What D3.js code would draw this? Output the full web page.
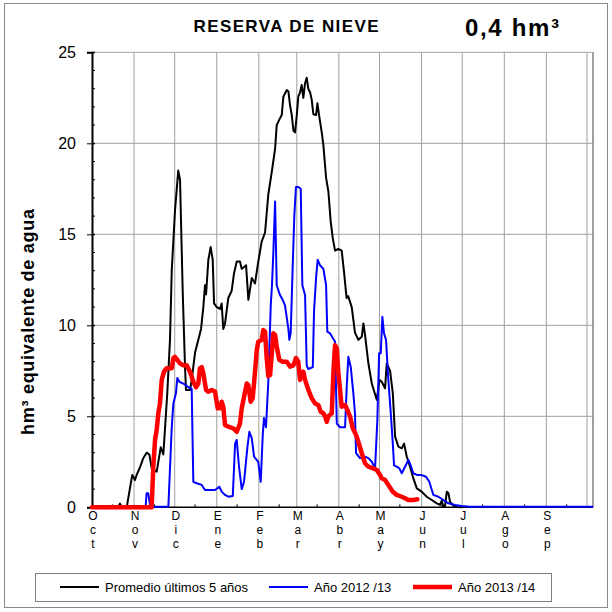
<!DOCTYPE html>
<html>
<head>
<meta charset="utf-8">
<script src="https://cdn.jsdelivr.net/npm/d3@7"></script>
<style>
  body { margin: 0; background: #fff; }
  text { font-family: Arial, "Liberation Sans", sans-serif; }
</style>
</head>
<body>
<svg id="chart" width="612" height="612"></svg>
<script>
// days counted from 1 Oct, value in hm3
var promedio = [[0,0],[19,0],[20.6,0.2],[22,0],[25.6,0],[28,1.05],[29.7,1.78],[31.7,1.5],[33,1.8],[35.4,2.2],[37.8,2.7],[40.3,3.0],[42.3,2.9],[44,2.15],[45.2,2.05],[47.7,1.96],[48.9,2.5],[50.7,3.3],[52.6,2.9],[55.5,6.26],[57.5,9.2],[58.8,13.0],[61.2,16.3],[63.6,18.5],[64.9,18.0],[66.9,11.8],[68.6,7.7],[69.3,6.45],[72.3,6.45],[73.5,7.0],[76,8.5],[78.4,9.2],[80.4,9.8],[82.1,11.0],[83.3,12.2],[84.1,11.7],[85.8,13.6],[87.5,14.3],[89,13.6],[90,11.2],[92,11.0],[94.4,10.9],[95.6,11.2],[96.8,9.8],[98.1,10.1],[100.5,11.5],[103,11.9],[104.7,12.85],[106.7,13.5],[109.1,13.5],[110.4,13.1],[112.1,13.2],[113.6,13.3],[115.3,11.4],[117.8,12.6],[120.2,12.3],[122.6,13.5],[125.1,14.6],[127.6,15.1],[130,17.2],[132.5,18.4],[135,19.7],[136.2,21.0],[138.1,21.3],[139.9,21.55],[141.1,22.56],[143.6,22.93],[144.8,22.85],[146,22.1],[147.3,21.55],[148.5,20.7],[149.7,20.6],[151,21.55],[152.1,22.56],[153.4,22.8],[154.6,23.2],[155.8,22.5],[157.1,23.3],[158.3,23.6],[159.5,23.0],[160.8,22.8],[162,22.4],[163.2,21.6],[165.2,21.55],[166.2,22.2],[167.4,21.55],[169.4,20.6],[170.6,19.9],[172.6,18.1],[174.3,17.35],[176,15.7],[177.5,14.8],[179.2,14.1],[181.6,14.2],[184.1,14.1],[185.8,12.95],[187.7,11.5],[188.9,11.6],[191.5,11.0],[193.9,9.6],[196.4,9.2],[198.9,9.37],[200.1,10.1],[201.3,9.47],[203.8,7.9],[206.3,6.8],[210,5.9],[211.9,7.0],[213.6,6.9],[216.1,6.54],[217.3,7.9],[219.8,7.5],[221.8,6.26],[223.5,3.88],[225.9,3.33],[228.4,3.24],[230.1,3.5],[232.1,2.78],[234.5,2.23],[236.9,1.6],[239.5,1.04],[243.1,0.86],[246.8,0.58],[250.5,0.4],[254.2,0.22],[256.6,0.13],[257.9,0.36],[259.1,0.05],[260.3,0.05],[261.6,0.86],[262.8,0.77],[264,0.3],[266.4,0.1],[269,0.02],[272,0]];

var ano1213 = [[0,0],[39.5,0],[40.3,0.77],[41.5,0.77],[42.8,0.1],[44,0.03],[56.3,0.03],[58.8,4.4],[60,5.7],[61.9,6.26],[62.9,7.1],[64.4,6.9],[67.3,6.8],[71,6.6],[73.5,6.5],[74.7,1.4],[77.2,1.32],[80.9,1.23],[83.3,0.95],[90.7,0.95],[93.9,1.13],[95.6,0.86],[98.1,0.68],[100.5,0.58],[103.8,0.62],[105.5,3.5],[106.7,3.7],[108.4,2.23],[110.4,1.0],[112.1,1.4],[114.5,3.24],[116,4.15],[117.8,3.8],[119.5,2.78],[122.6,2.5],[124.4,1.4],[125.9,3.97],[126.8,4.9],[128.3,4.4],[130,6.9],[131.8,11.1],[132.7,12.2],[133.7,14.0],[135,16.8],[136.2,12.2],[138.6,11.66],[140.6,11.4],[142.3,11.1],[144.8,9.8],[145.5,9.2],[146.5,9.56],[148,13.3],[149.2,16.06],[150.4,17.6],[152.1,17.6],[153.9,17.5],[155.1,12.2],[157.1,11.66],[158.3,7.8],[159.5,7.6],[162.8,7.7],[163.7,10.75],[165.2,12.6],[166.4,13.6],[168.1,13.3],[170.6,13.1],[172.6,12.2],[173.5,9.65],[175.5,9.56],[179.2,9.1],[180.5,4.6],[182.9,4.4],[186.6,4.4],[187.8,6.6],[189,8.27],[190.8,7.7],[192.7,6.26],[193.9,5.16],[194.7,2.97],[197.6,2.7],[201.3,2.78],[203.8,2.7],[206.3,2.5],[208.7,2.14],[210.4,4.8],[211.7,8.46],[212.9,8.46],[214.1,10.47],[215.3,9.56],[216.8,9.2],[218.5,7.0],[220.3,5.16],[221.8,3.5],[222.7,2.3],[224.7,2.23],[226.6,2.14],[228.4,1.87],[230.8,2.23],[233.3,2.6],[235,2.3],[236.9,1.87],[239.9,1.77],[243.1,1.77],[246.3,1.68],[248.7,1.4],[251.7,0.68],[255.4,0.58],[259.1,0.4],[262.8,0.22],[267.7,0.13],[272.6,0.07],[278.8,0.03],[369,0.03]];

var ano1314 = [[0,0],[44,0],[45.2,2.23],[46.5,3.7],[47.7,4.25],[48.9,5.16],[50.1,5.7],[51.4,7.0],[53.1,7.45],[55.1,7.64],[58.8,7.64],[60,8.2],[61.2,8.27],[62.9,8.1],[64.9,7.9],[67.3,7.8],[69.8,7.8],[72.3,7.45],[74.7,6.9],[76.7,6.6],[78.4,6.8],[79.6,7.64],[80.9,7.7],[82.1,7.36],[84.1,6.45],[85.8,6.35],[88.3,6.45],[90.7,6.35],[92.7,5.44],[94.4,5.44],[95.6,5.8],[96.8,5.53],[98.1,4.52],[100.5,4.43],[104.2,4.34],[106.7,4.15],[109.1,4.6],[110.4,5.44],[112.1,6.07],[114.1,6.8],[115.3,6.7],[117,5.8],[118.5,6.0],[120.2,7.45],[121.5,8.65],[122.6,9.1],[125.1,9.2],[126.3,9.74],[127.6,9.65],[128.8,8.2],[130,7.2],[131.3,7.27],[132.5,8.37],[133.7,9.56],[135,9.47],[136.2,8.82],[138.1,8.1],[140.6,8.0],[143.6,8.0],[146,7.73],[148.5,7.8],[150.4,8.2],[152.1,8.0],[153.4,7.0],[154.6,7.27],[155.8,7.45],[157.1,7.0],[159.5,6.45],[162,6.0],[164.5,5.7],[166.9,5.62],[168.7,5.25],[170.6,5.16],[171.9,4.98],[173.1,4.7],[174.3,5.0],[176.8,5.16],[178,7.45],[179.2,8.9],[180.5,8.73],[181.6,7.45],[182.9,6.45],[184.1,5.53],[186.6,5.62],[188.3,5.35],[190.3,4.98],[192.3,4.34],[194.7,3.97],[196.4,3.6],[198.9,2.97],[201.3,2.42],[203.8,2.23],[207.4,2.14],[210,2.05],[212.4,1.77],[213.6,1.6],[216.1,1.5],[218.5,1.23],[221.8,0.86],[224.7,0.68],[228.4,0.58],[230.8,0.5],[233.3,0.4],[237,0.4],[239.9,0.44]];

var meses = ["Oct","Nov","Dic","Ene","Feb","Mar","Abr","May","Jun","Jul","Ago","Sep"];
var inicioMes = [0,31,61,92,123,151,182,212,243,273,304,335,365];
var yTicks = [0,5,10,15,20,25];
var leyenda = ["Promedio últimos 5 años","Año 2012 /13","Año 2013 /14"];
var colores = ["#000000","#0000ff","#ff0000"];
var grosor = [2,2,4.5];

var svg = d3.select("#chart");
var x = d3.scaleLinear().domain([0,369.4]).range([92,593]);
var y = d3.scaleLinear().domain([0,25]).range([507.3,52.3]);

// outer frame
svg.append("rect").attr("x",4.5).attr("y",3.5).attr("width",603).attr("height",604)
  .attr("fill","#fff").attr("stroke","#888").attr("stroke-width",1);

// grid
var grid = svg.append("g");
grid.selectAll("line.h").data(yTicks.slice(1)).enter().append("line")
  .attr("x1",92).attr("x2",593)
  .attr("y1",function(d){ return y(d); }).attr("y2",function(d){ return y(d); })
  .attr("stroke","#a0a0a0").attr("stroke-width",1);
grid.selectAll("line.v").data(inicioMes.slice(1)).enter().append("line")
  .attr("x1",function(d){ return x(d); }).attr("x2",function(d){ return x(d); })
  .attr("y1",y(25)).attr("y2",y(0))
  .attr("stroke","#a0a0a0").attr("stroke-width",1);
svg.append("line").attr("x1",593).attr("x2",593).attr("y1",y(25)).attr("y2",y(0))
  .attr("stroke","#808080").attr("stroke-width",1.5);

// y axis
var yAxis = d3.axisLeft(y).tickValues(yTicks).tickSize(5).tickPadding(11);
var gy = svg.append("g").attr("transform","translate(92,0)").call(yAxis);
gy.select(".domain").attr("stroke","#000").attr("stroke-width",2);
gy.selectAll(".tick line").attr("stroke","#000").attr("x2",-5).attr("x1",3);
gy.selectAll(".tick text").attr("font-size",16).attr("fill","#000")
  .attr("font-family","Arial, 'Liberation Sans', sans-serif");
gy.selectAll("line.minor").data(d3.range(0,26)).enter().append("line")
  .attr("x1",0).attr("x2",3)
  .attr("y1",function(d){ return y(d); }).attr("y2",function(d){ return y(d); })
  .attr("stroke","#000");

// x axis
svg.append("line").attr("x1",92).attr("x2",593).attr("y1",y(0)).attr("y2",y(0))
  .attr("stroke","#000").attr("stroke-width",1.5);
svg.selectAll("line.xminor").data(meses).enter().append("line")
  .attr("x1",function(d,i){ return x(inicioMes[i]+15); })
  .attr("x2",function(d,i){ return x(inicioMes[i]+15); })
  .attr("y1",y(0)).attr("y2",y(0)-3).attr("stroke","#000");

var mesG = svg.selectAll("g.mes").data(meses).enter().append("g")
  .attr("transform",function(d,i){ return "translate(" + (x(inicioMes[i])+1) + ",0)"; });
mesG.selectAll("text").data(function(d){ return d.split(""); }).enter().append("text")
  .attr("x",0).attr("y",function(d,i){ return 520 + i*14; })
  .attr("text-anchor","middle").attr("font-size",12).attr("fill","#000")
  .text(function(d){ return d; });

// series
var line = d3.line().x(function(d){ return x(d[0]); }).y(function(d){ return y(d[1]); });
[promedio, ano1213, ano1314].forEach(function(s,i){
  svg.append("path").datum(s).attr("d",line).attr("fill","none")
    .attr("stroke",colores[i]).attr("stroke-width",grosor[i])
    .attr("stroke-linejoin","round").attr("stroke-linecap","round");
});

// titles
svg.append("text").attr("x",286).attr("y",32).attr("text-anchor","middle")
  .attr("font-size",17).attr("font-weight","bold").attr("textLength",185)
  .attr("lengthAdjust","spacing").text("RESERVA DE NIEVE");
svg.append("text").attr("x",465).attr("y",36).attr("font-size",24)
  .attr("font-weight","bold").attr("textLength",94).attr("lengthAdjust","spacing")
  .text("0,4 hm³");
svg.append("text").attr("transform","translate(34,322) rotate(-90)")
  .attr("text-anchor","middle").attr("font-size",18).attr("font-weight","bold")
  .attr("textLength",226).attr("lengthAdjust","spacing")
  .text("hm³ equivalente de agua");

// legend
svg.append("rect").attr("x",35.5).attr("y",573.5).attr("width",516).attr("height",28)
  .attr("fill","#fff").attr("stroke","#808080");
var legX = [60,269,413];
var lg = svg.selectAll("g.leg").data(leyenda).enter().append("g")
  .attr("transform",function(d,i){ return "translate(" + legX[i] + ",587)"; });
lg.append("line").attr("x1",0).attr("x2",39).attr("y1",0).attr("y2",0)
  .attr("stroke",function(d,i){ return colores[i]; })
  .attr("stroke-width",function(d,i){ return grosor[i]; });
lg.append("text").attr("x",45).attr("y",4.5).attr("font-size",13).text(function(d){ return d; });
</script>
</body>
</html>
